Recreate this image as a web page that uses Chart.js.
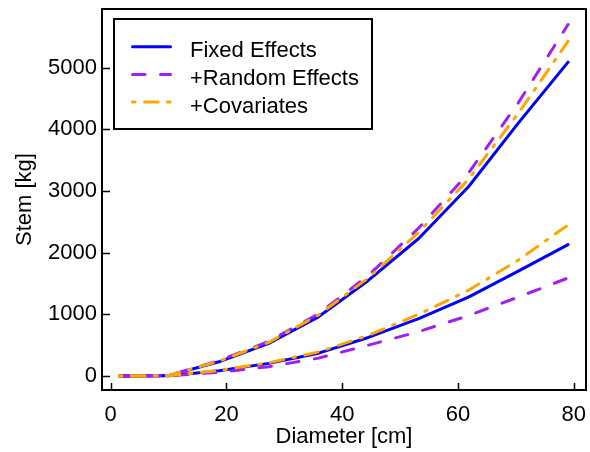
<!DOCTYPE html>
<html>
<head>
<meta charset="utf-8">
<script src="https://cdn.jsdelivr.net/npm/chart.js@4.4.1/dist/chart.umd.min.js"></script>
<style>
  html, body { margin: 0; padding: 0; background: #fff; }
  #wrap { width: 590px; height: 452px; }
</style>
</head>
<body>
<div id="wrap"><canvas id="chart" width="590" height="452"></canvas></div>
<script>
// ─── Data ───────────────────────────────────────────────────────────────────

const diameter = [1.5, 10.1, 18.7, 27.3, 35.9, 44.5, 53.2, 61.8, 70.4, 79];

// upper group of curves
const fixedA  = [0, 10, 230, 530, 960, 1550, 2230, 3070, 4100, 5090];
const randomA = [0, 10, 250, 560, 1010, 1630, 2400, 3290, 4430, 5700];
const covA    = [0, 10, 240, 545, 990, 1590, 2330, 3190, 4260, 5430];

// lower group of curves
const fixedB  = [0, 5, 85, 205, 370, 625, 930, 1280, 1700, 2130];
const randomB = [0, 5, 60, 150, 290, 500, 720, 980, 1280, 1590];
const covB    = [0, 5, 90, 215, 390, 660, 1000, 1390, 1880, 2450];

const seriesLabels = ['Fixed Effects', '+Random Effects', '+Covariates'];
const xTicks = [0, 20, 40, 60, 80];
const yTicks = [0, 1000, 2000, 3000, 4000, 5000];

// ─── Styles ────────────────────────────────────────────────────────────────

const FONT = "'Liberation Sans', Arial, sans-serif";
const FONT_SIZE = 22;

const styles = [
  { color: '#0000ff', dash: [], order: 3 },
  { color: '#a020f0', dash: [12.5, 15.5], order: 2 },
  { color: '#ffa500', dash: [2.5, 9.5, 13.5, 9.5], order: 1 },
];

function pts(ys) {
  return ys.map(function (y, i) { return { x: diameter[i], y: y }; });
}

function makeSet(label, ys, st) {
  return {
    label: label,
    data: pts(ys),
    borderColor: st.color,
    backgroundColor: st.color,
    borderDash: st.dash,
    borderWidth: 3,
    borderCapStyle: 'round',
    borderJoinStyle: 'round',
    pointRadius: 0,
    tension: 0,
    fill: false,
    order: st.order,
  };
}

// ─── Plugin: box frame, inward ticks, boxed legend ───────────────────────────

const framePlugin = {
  id: 'frame',
  afterDraw: function (chart) {
    const ctx = chart.ctx;
    const a = chart.chartArea;
    const xs = chart.scales.x;
    const ys = chart.scales.y;
    ctx.save();
    ctx.strokeStyle = '#000';
    ctx.lineWidth = 2;
    ctx.setLineDash([]);
    ctx.strokeRect(a.left, a.top, a.right - a.left, a.bottom - a.top);

    // inward ticks on left and bottom
    ctx.lineWidth = 1.5;
    ctx.beginPath();
    xTicks.forEach(function (v) {
      const px = Math.round(xs.getPixelForValue(v)) + 0.5;
      ctx.moveTo(px, a.bottom);
      ctx.lineTo(px, a.bottom - 7);
    });
    yTicks.forEach(function (v) {
      const py = Math.round(ys.getPixelForValue(v)) + 0.5;
      ctx.moveTo(a.left, py);
      ctx.lineTo(a.left + 8, py);
    });
    ctx.stroke();

    // legend box
    const bx = 114, by = 19, bw = 258, bh = 110;
    ctx.lineWidth = 2;
    ctx.strokeRect(bx, by, bw, bh);
    ctx.font = FONT_SIZE + 'px ' + FONT;
    ctx.fillStyle = '#000';
    ctx.textBaseline = 'alphabetic';
    ctx.textAlign = 'left';
    ctx.lineCap = 'round';
    for (let i = 0; i < 3; i++) {
      const ds = chart.data.datasets[i];
      const ly = 46.7 + i * 27.7;
      ctx.strokeStyle = ds.borderColor;
      ctx.lineWidth = 3;
      ctx.setLineDash(ds.borderDash);
      ctx.beginPath();
      ctx.moveTo(132.5, ly);
      ctx.lineTo(170.5, ly);
      ctx.stroke();
      ctx.setLineDash([]);
      ctx.fillText(ds.label, 190, ly + 10.5);
    }
    ctx.restore();
  }
};

// ─── Chart ───────────────────────────────────────────────────────────────────

new Chart(document.getElementById('chart'), {
  type: 'line',
  data: {
    datasets: [
      makeSet(seriesLabels[0], fixedA, styles[0]),
      makeSet(seriesLabels[1], randomA, styles[1]),
      makeSet(seriesLabels[2], covA, styles[2]),
      makeSet(seriesLabels[0], fixedB, styles[0]),
      makeSet(seriesLabels[1], randomB, styles[1]),
      makeSet(seriesLabels[2], covB, styles[2]),
    ],
  },
  options: {
    responsive: false,
    animation: false,
    devicePixelRatio: 1,
    layout: { padding: { top: 9, right: 4, left: 0, bottom: 0 } },
    plugins: {
      legend: { display: false },
      tooltip: { enabled: false },
    },
    scales: {
      x: {
        type: 'linear',
        min: -1.5,
        max: 82.1,
        afterBuildTicks: function (scale) {
          scale.ticks = xTicks.map(function (v) { return { value: v }; });
        },
        afterFit: function (scale) {
          scale.height = 62;
          scale.paddingLeft = 0;
          scale.paddingRight = 0;
        },
        grid: { display: false, drawTicks: false },
        border: { display: false },
        ticks: {
          color: '#000',
          padding: 12,
          maxRotation: 0,
          callback: function (v) { return String(v); },
          font: { family: FONT, size: FONT_SIZE },
        },
        title: {
          display: true,
          text: 'Diameter [cm]',
          color: '#000',
          padding: { top: 0, bottom: 2 },
          font: { family: FONT, size: FONT_SIZE },
        },
      },
      y: {
        type: 'linear',
        min: -227,
        max: 5952,
        afterBuildTicks: function (scale) {
          scale.ticks = yTicks.map(function (v) { return { value: v }; });
        },
        afterFit: function (scale) {
          scale.width = 102;
          scale.paddingTop = 0;
          scale.paddingBottom = 0;
        },
        grid: { display: false, drawTicks: false },
        border: { display: false },
        ticks: {
          color: '#000',
          padding: 5,
          callback: function (v) { return String(v); },
          font: { family: FONT, size: FONT_SIZE },
        },
        title: {
          display: true,
          text: 'Stem [kg]',
          color: '#000',
          padding: { top: 12, bottom: 0 },
          font: { family: FONT, size: FONT_SIZE },
        },
      },
    },
  },
  plugins: [framePlugin],
});
</script>
</body>
</html>
